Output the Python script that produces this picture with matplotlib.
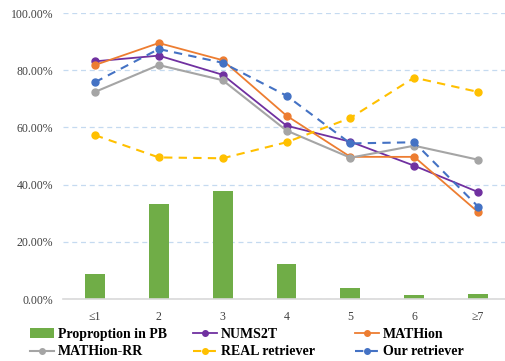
import matplotlib
matplotlib.use('Agg')
import matplotlib.pyplot as plt
from matplotlib.ticker import FuncFormatter


categories = ['≤1', '2', '3', '4', '5', '6', '≥7']
proportion_pb = [8.7, 33.2, 37.8, 12.2, 3.7, 1.4, 1.6]
nums2t = [83.1, 85.1, 78.4, 60.6, 55.0, 46.6, 37.4]
mathion = [81.8, 89.5, 83.5, 64.1, 49.7, 49.7, 30.4]
mathion_rr = [72.4, 81.8, 76.5, 58.9, 49.4, 53.6, 48.7]
real_retriever = [57.3, 49.5, 49.2, 54.8, 63.3, 77.4, 72.4]
our_retriever = [75.8, 87.4, 82.6, 71.1, 54.4, 54.8, 32.3]

plt.rcParams['font.family'] = ['Liberation Serif', 'DejaVu Serif']

fig = plt.figure(figsize=(5.05, 3.61), dpi=100)
ax = fig.add_axes([63 / 505, 62 / 361, 447 / 505, 286 / 361])

x = list(range(len(categories)))
bars = ax.bar(x, proportion_pb, width=0.31, color='#70AD47', zorder=2)

l1, = ax.plot(x, nums2t, color='#7030A0', marker='o', ms=5, lw=1.3, zorder=3)
l2, = ax.plot(x, mathion, color='#ED7D31', marker='o', ms=5, lw=1.3, zorder=3)
l3, = ax.plot(x, mathion_rr, color='#A5A5A5', marker='o', ms=5, lw=1.5, zorder=3)
l4, = ax.plot(x, real_retriever, color='#FFC000', marker='o', ms=5, lw=1.5,
              ls=(0, (4, 3)), zorder=3)
l5, = ax.plot(x, our_retriever, color='#4472C4', marker='o', ms=5, lw=1.5,
              ls=(0, (4, 3)), zorder=3)

ax.set_xlim(-0.5, 6.5)
ax.set_ylim(0, 100)
ax.set_yticks([0, 20, 40, 60, 80, 100])
ax.yaxis.set_major_formatter(FuncFormatter(lambda v, p: '%.2f%%' % v))
ax.set_xticks(x)
ax.set_xticklabels(categories)
ax.tick_params(axis='both', length=0, labelsize=8.5, colors='#404040', pad=9)
ax.tick_params(axis='y', pad=7)
ax.yaxis.grid(True, color='#C5DAF0', ls=(0, (4, 3)), lw=0.9, zorder=0)
for s in ['top', 'right', 'left']:
    ax.spines[s].set_visible(False)
ax.spines['bottom'].set_color('#D9D9D9')
ax.spines['bottom'].set_linewidth(1.2)

handles = [bars, l3, l1, l4, l2, l5]
labels = ['Proproption in PB', 'MATHion-RR', 'NUMS2T', 'REAL retriever    ',
          'MATHion', 'Our retriever']
fig.legend(handles, labels, ncol=3, loc='lower left', bbox_to_anchor=(23 / 505, -0.012),
           frameon=False, prop={'weight': 'bold', 'size': 10},
           handlelength=1.75, handletextpad=0.25, columnspacing=1.9,
           labelspacing=0.3, borderaxespad=0.1, markerscale=0.8)

fig.savefig('out.png', dpi=100)
